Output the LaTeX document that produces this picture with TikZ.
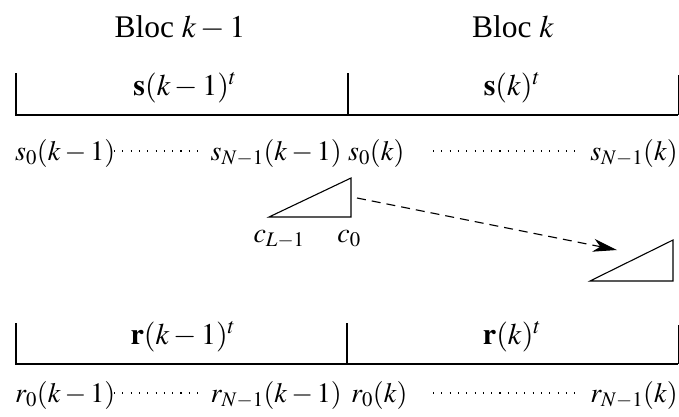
\documentclass[tikz,border=0pt]{standalone}
\usepackage{mathptmx}
\usepackage{fontspec}
\setmainfont{Liberation Serif}
\usetikzlibrary{arrows.meta}
\tikzset{
  bar/.style={line width=1.6pt},
  tri/.style={line width=1.1pt, line join=miter},
  lab/.style={inner sep=0pt, anchor=base, font=\fontsize{28}{34}\selectfont},
  barlab/.style={inner sep=0pt, anchor=base, font=\fontsize{30}{36}\selectfont},
  head/.style={inner sep=0pt, anchor=base, font=\fontsize{31.5}{36}\selectfont},
  dotline/.style={line width=1.1pt, dash pattern=on 1.1pt off 7.2pt},
  movearrow/.style={line width=1.1pt, dash pattern=on 9pt off 6pt, -{Stealth[length=24pt,width=13pt,inset=7pt]}},
}
\begin{document}
\begin{tikzpicture}[x=1pt,y=-1pt]
\useasboundingbox (0,0) rectangle (679,416);
% headings
\node[head] (b1) at (180,37) {Bloc $k-1$};
\node[head] (b2) at (513,37) {Bloc $k$};
% s bar
\coordinate (sa) at (16,73);
\coordinate (sb) at (16,115);
\coordinate (sm) at (348,73);
\coordinate (smb) at (348,115);
\coordinate (se) at (678,75);
\coordinate (seb) at (678,115);
\draw[bar] (sa) -- (sb) -- (seb);
\draw[bar] (sm) -- (smb);
\draw[line width=0.8pt] (se) -- (seb);
\node[barlab] (st1) at (185,95) {$\mathbf{s}(k-1)^t$};
\node[barlab] (st2) at (512,95) {$\mathbf{s}(k)^t$};
% s labels
\node[lab, anchor=base west] (s0a) at (15,160) {$s_0(k-1)$};
\node[lab, anchor=base east] (sNa) at (342,160) {$s_{N-1}(k-1)$};
\node[lab, anchor=base west] (s0b) at (348,160) {$s_0(k)$};
\node[lab, anchor=base east] (sNb) at (678,160) {$s_{N-1}(k)$};
\coordinate (d1a) at (114,151);
\coordinate (d1b) at (198,151);
\coordinate (d2a) at (433,151);
\coordinate (d2b) at (576,151);
\draw[dotline] (d1a) -- (d1b);
\draw[dotline] (d2a) -- (d2b);
% triangles
\coordinate (t1a) at (269,217);
\coordinate (t1b) at (351,217);
\coordinate (t1c) at (351,178);
\draw[tri] (t1a) -- (t1b) -- (t1c) -- cycle;
\coordinate (t2a) at (590,281);
\coordinate (t2b) at (673,281);
\coordinate (t2c) at (673,240);
\draw[tri] (t2a) -- (t2b) -- (t2c) -- cycle;
\node[lab] (cL) at (279,242) {$c_{L-1}$};
\node[lab] (c0) at (349,242) {$c_0$};
\coordinate (arS) at (357,198);
\coordinate (arE) at (617,250);
\draw[movearrow] (arS) -- (arE);
% r bar
\coordinate (ra) at (16,323);
\coordinate (rb) at (16,364);
\coordinate (rm) at (347,323);
\coordinate (rmb) at (347,364);
\coordinate (re) at (678,325);
\coordinate (reb) at (678,364);
\draw[bar] (ra) -- (rb) -- (reb);
\draw[bar] (rm) -- (rmb);
\draw[line width=0.8pt] (re) -- (reb);
\node[barlab] (rt1) at (183,344) {$\mathbf{r}(k-1)^t$};
\node[barlab] (rt2) at (512,344) {$\mathbf{r}(k)^t$};
% r labels
\node[lab, anchor=base west] (r0a) at (15,402) {$r_0(k-1)$};
\node[lab, anchor=base east] (rNa) at (342,402) {$r_{N-1}(k-1)$};
\node[lab, anchor=base west] (r0b) at (351,402) {$r_0(k)$};
\node[lab, anchor=base east] (rNb) at (678,402) {$r_{N-1}(k)$};
\coordinate (e1a) at (114,393);
\coordinate (e1b) at (198,393);
\coordinate (e2a) at (433,393);
\coordinate (e2b) at (576,393);
\draw[dotline] (e1a) -- (e1b);
\draw[dotline] (e2a) -- (e2b);
\end{tikzpicture}
\end{document}
